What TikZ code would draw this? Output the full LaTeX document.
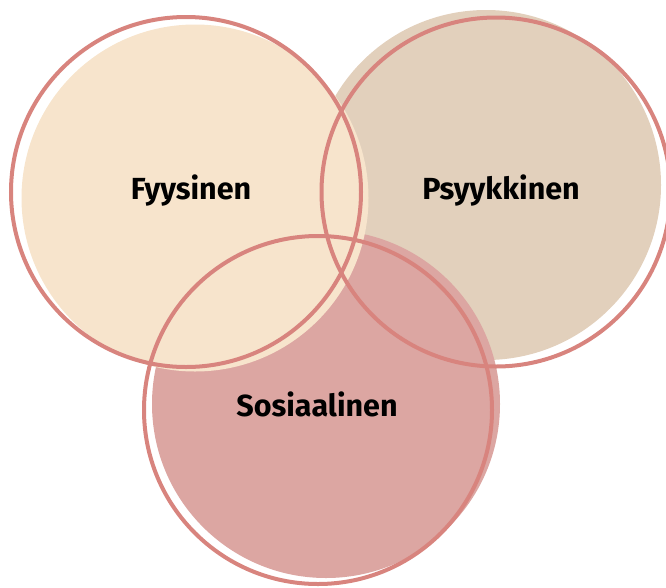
\documentclass[tikz,border=0pt]{standalone}
\usepackage{fontspec}
\setmainfont{Fira Sans}
\definecolor{fyfill}{HTML}{F7E4CC}
\definecolor{psfill}{HTML}{E2D0BC}
\definecolor{sofill}{HTML}{DCA6A2}
\definecolor{ring}{HTML}{D8847E}
\tikzset{
  ringline/.style={draw=ring, line width=4pt},
  lbl/.style={font=\fontsize{30.5}{35}\selectfont\bfseries, text=black, anchor=base, inner sep=0pt}
}
\begin{document}
\begin{tikzpicture}[x=1pt,y=-1pt]
\useasboundingbox (0,0) rectangle (666,587);
% filled discs
\fill[psfill] (486,185) circle (175);
\fill[sofill] (326,404) circle (174);
\fill[fyfill] (195,198) circle (173.5);
% rings
\draw[ringline] (496,192) circle (174.5);
\draw[ringline] (318,410) circle (174);
\draw[ringline] (186,192) circle (175);
% labels
\node[lbl] (fy) at (191,199) {Fyysinen};
\node[lbl] (ps) at (501,199) {Psyykkinen};
\node[lbl] (so) at (317,416) {Sosiaalinen};
\end{tikzpicture}
\end{document}
